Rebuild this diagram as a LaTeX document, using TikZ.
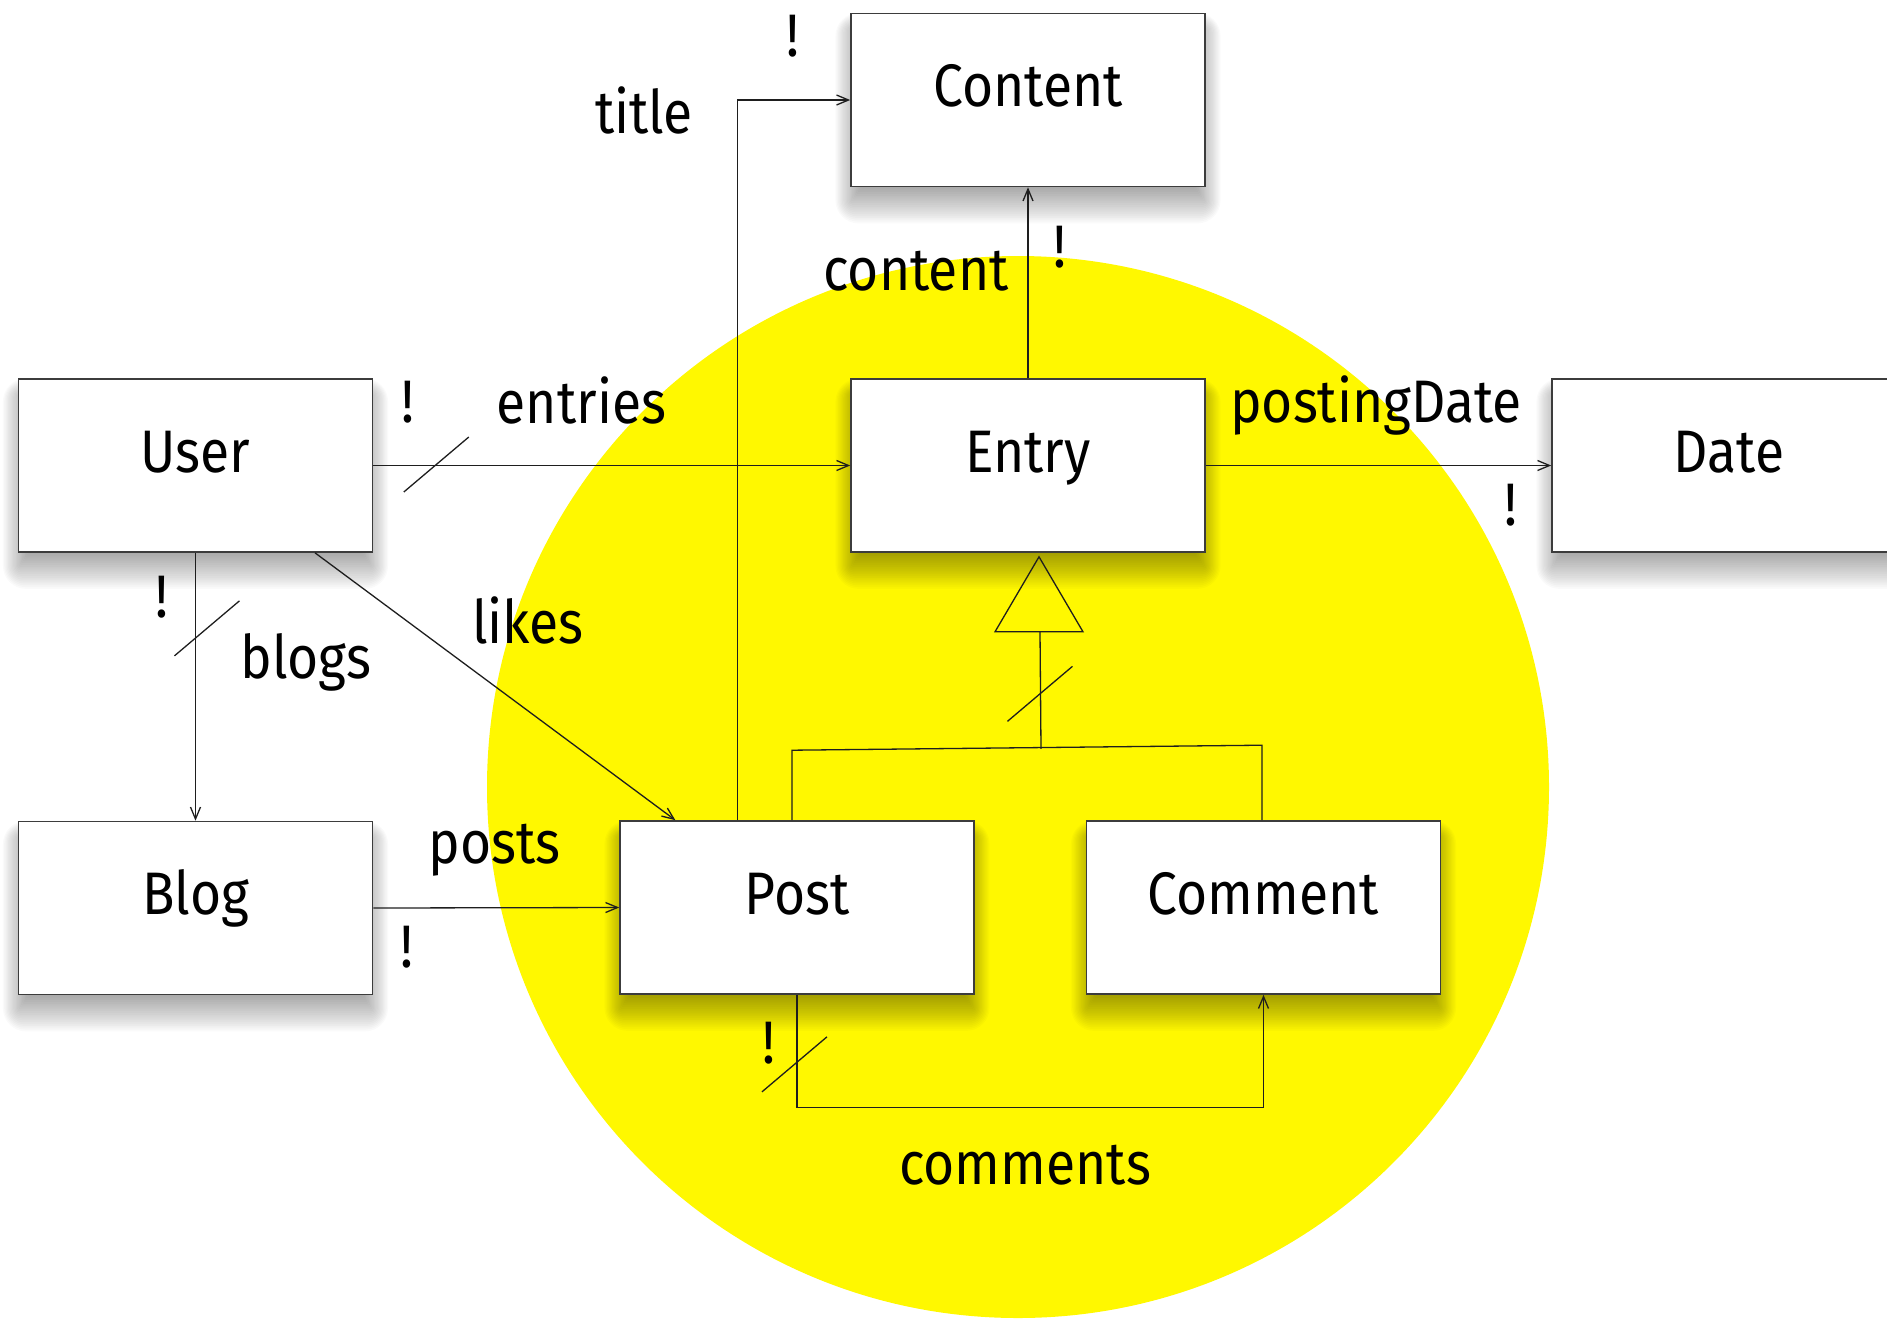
\documentclass[tikz,border=0pt]{standalone}
\usepackage{fontspec}
\setmainfont{Fira Sans}[FakeStretch=0.89]
\usetikzlibrary{arrows.meta,calc}

\definecolor{hilite}{RGB}{255,248,0}
\definecolor{boxline}{RGB}{60,60,60}
\definecolor{wire}{RGB}{30,30,30}

\pgfdeclarelayer{back}
\pgfsetlayers{back,main}

\tikzset{
  classbox/.style={draw=boxline, line width=1.6pt, fill=white,
    minimum width=354pt, minimum height=173pt, inner sep=0pt,
    text height=45pt, text depth=32pt,
    font=\fontsize{60}{72}\selectfont},
  softshade/.style={fill=black, fill opacity=0.02, draw=none},
  assoc/.style={draw=wire, line width=1.3pt,
    -{Straight Barb[length=12pt,width=10pt]}},
  plain/.style={draw=wire, line width=1.3pt},
  tag/.style={anchor=base, inner sep=0pt, font=\fontsize{60}{72}\selectfont},
  crossbar/.pic={\draw[plain] (-32.5,27.5) -- (32.5,-27.5);}
}

\begin{document}
\begin{tikzpicture}[x=1pt,y=-1pt]
\useasboundingbox (0,0) rectangle (1887,1318);

% classes
\node[classbox] (Content) at (1028,100)   {Content};
\node[classbox] (User)    at (195.5,465.5) {User};
\node[classbox] (Entry)   at (1028,465.5) {Entry};
\node[classbox] (Date)    at (1729,465.5) {Date};
\node[classbox] (Blog)    at (195.5,908)  {Blog};
\node[classbox] (Post)    at (797,907.5)  {Post};
\node[classbox] (Comment) at (1263.5,907.5) {Comment};

\begin{pgfonlayer}{back}
  % highlighted area behind the entry hierarchy
  \fill[hilite] (1018,787) circle[radius=531];
  % soft drop shadows: stacked translucent rounded rectangles, offset downwards
  \foreach \b in {Content,User,Entry,Date,Blog,Post,Comment} {
    \foreach \i in {1,...,24} {
      \pgfmathsetmacro\e{-22+44*(\i-0.5)/24}
      \pgfmathsetmacro\s{0.7*\e}
      \pgfmathsetmacro\rc{max(\e,0)+2}
      \fill[softshade, rounded corners=\rc pt]
        ($(\b.north west)+(-\s,15-\s)$) rectangle ($(\b.south east)+(\s,15+\e)$);
    }
  }
\end{pgfonlayer}

% associations
\draw[assoc] (User.east) -- (Entry.west);
\draw[assoc] (User.south) -- (Blog.north);
\draw[assoc] ($(User.south west)!0.836!(User.south east)$)
          -- ($(Post.north west)!0.158!(Post.north east)$);
\draw[assoc] (Blog.east) -- (Post.west);
\draw[assoc] ($(Post.north west)!0.333!(Post.north east)$) |- (Content.west);
\draw[assoc] (Entry.north) -- (Content.south);
\draw[assoc] (Entry.east) -- (Date.west);
\draw[assoc] (Post.south) -- ++(0,113) -| (Comment.south);

% generalisation: Post and Comment are entries
\coordinate (apex) at ($(Entry.south)+(11,4)$);
\draw[plain] (apex) -- ++(-44,75) -- ++(88,0) -- cycle;
\draw[plain] ($(apex)+(1,75)$) -- ($(apex)+(2,192)$);
\draw[plain] ($(Post.north)+(-5,0)$) -- ($(Post.north)+(-5,-70)$)
          -- ($(Comment.north)+(-1.5,-75)$) -- ($(Comment.north)+(-1.5,0)$);

% multiplicity strokes
\pic at ($(User.east)+(63,-1)$) {crossbar};
\pic at ($(User.south)+(11.5,75.5)$) {crossbar};
\pic at ($(apex)+(1,137)$) {crossbar};
\pic at ($(Post.south)+(-2.5,69.5)$) {crossbar};

% role names
\node[tag] (lEntries)  at (581.5,423) {entries};
\node[tag] (lBlogs)    at (305.8,678) {blogs};
\node[tag] (lLikes)    at (528,643)   {likes};
\node[tag] (lPosts)    at (494.5,863) {posts};
\node[tag] (lTitle)    at (644,133.5) {title};
\node[tag] (lContent)  at (916,290)   {content};
\node[tag] (lPosting)  at (1376,422)  {postingDate};
\node[tag] (lComments) at (1025,1184) {comments};

% non-null markers
\node[tag] (bEntries)  at (408,422)  {!};
\node[tag] (bBlogs)    at (161.6,617) {!};
\node[tag] (bPosts)    at (407,967)  {!};
\node[tag] (bTitle)    at (793,56)   {!};
\node[tag] (bContent)  at (1060,267) {!};
\node[tag] (bPosting)  at (1511,525) {!};
\node[tag] (bComments) at (769,1063) {!};
\end{tikzpicture}
\end{document}
